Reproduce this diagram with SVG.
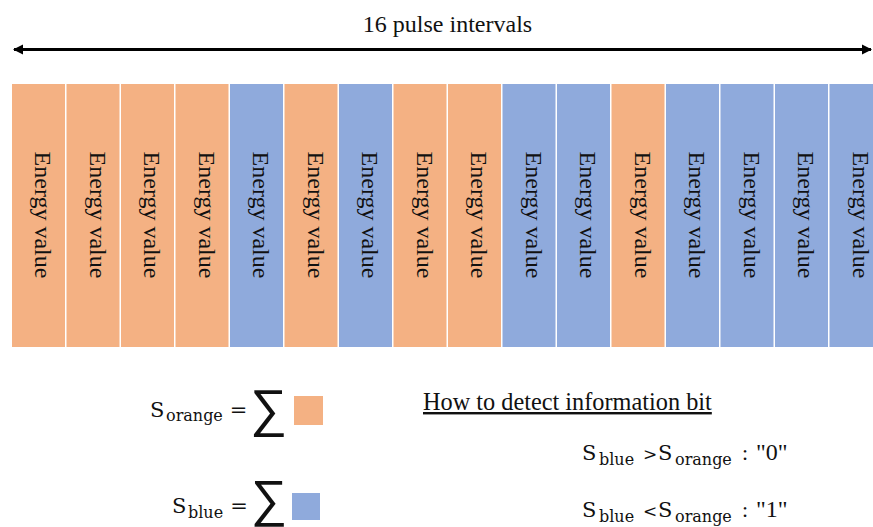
<svg xmlns="http://www.w3.org/2000/svg" width="873" height="527" viewBox="0 0 873 527">
<style>
.o{fill:#F4B183}
.b{fill:#8FAADC}
.ev{font-family:"Liberation Serif",serif;font-size:24px;fill:#111;text-anchor:middle}
.t{font-family:"Liberation Serif",serif;fill:#111}
.m{font-family:"DejaVu Serif",serif;fill:#111}
.sig{font-family:"DejaVu Sans",sans-serif;font-weight:200;fill:#111;text-anchor:middle}
</style>
<defs>
<marker id="ah" markerUnits="userSpaceOnUse" markerWidth="10" markerHeight="12" refX="9" refY="6" orient="auto-start-reverse" viewBox="0 0 10 12">
<path d="M0,1 L10,6 L0,11 Z" fill="#000"/>
</marker>
</defs>
<g id="connectors">
<line x1="14" y1="49.5" x2="871" y2="49.5" stroke="#000" stroke-width="3" marker-start="url(#ah)" marker-end="url(#ah)"/>
</g>
<g id="title"><text class="t" x="447.5" y="32" font-size="24" text-anchor="middle">16 pulse intervals</text></g>
<g id="bars">
<g id="bar1"><rect class="o" x="12" y="84" width="53" height="263"/><text class="ev" transform="translate(38.5,215) rotate(90)" y="3.5">Energy value</text></g>
<g id="bar2"><rect class="o" x="66.5" y="84" width="53" height="263"/><text class="ev" transform="translate(93,215) rotate(90)" y="3.5">Energy value</text></g>
<g id="bar3"><rect class="o" x="121" y="84" width="53" height="263"/><text class="ev" transform="translate(147.5,215) rotate(90)" y="3.5">Energy value</text></g>
<g id="bar4"><rect class="o" x="175.5" y="84" width="53" height="263"/><text class="ev" transform="translate(202,215) rotate(90)" y="3.5">Energy value</text></g>
<g id="bar5"><rect class="b" x="230" y="84" width="53" height="263"/><text class="ev" transform="translate(256.5,215) rotate(90)" y="3.5">Energy value</text></g>
<g id="bar6"><rect class="o" x="284.5" y="84" width="53" height="263"/><text class="ev" transform="translate(311,215) rotate(90)" y="3.5">Energy value</text></g>
<g id="bar7"><rect class="b" x="339" y="84" width="53" height="263"/><text class="ev" transform="translate(365.5,215) rotate(90)" y="3.5">Energy value</text></g>
<g id="bar8"><rect class="o" x="393.5" y="84" width="53" height="263"/><text class="ev" transform="translate(420,215) rotate(90)" y="3.5">Energy value</text></g>
<g id="bar9"><rect class="o" x="448" y="84" width="53" height="263"/><text class="ev" transform="translate(474.5,215) rotate(90)" y="3.5">Energy value</text></g>
<g id="bar10"><rect class="b" x="502.5" y="84" width="53" height="263"/><text class="ev" transform="translate(529,215) rotate(90)" y="3.5">Energy value</text></g>
<g id="bar11"><rect class="b" x="557" y="84" width="53" height="263"/><text class="ev" transform="translate(583.5,215) rotate(90)" y="3.5">Energy value</text></g>
<g id="bar12"><rect class="o" x="611.5" y="84" width="53" height="263"/><text class="ev" transform="translate(638,215) rotate(90)" y="3.5">Energy value</text></g>
<g id="bar13"><rect class="b" x="666" y="84" width="53" height="263"/><text class="ev" transform="translate(692.5,215) rotate(90)" y="3.5">Energy value</text></g>
<g id="bar14"><rect class="b" x="720.5" y="84" width="53" height="263"/><text class="ev" transform="translate(747,215) rotate(90)" y="3.5">Energy value</text></g>
<g id="bar15"><rect class="b" x="775" y="84" width="53" height="263"/><text class="ev" transform="translate(801.5,215) rotate(90)" y="3.5">Energy value</text></g>
<g id="bar16"><rect class="b" x="829.5" y="84" width="53" height="263"/><text class="ev" transform="translate(856,215) rotate(90)" y="3.5">Energy value</text></g>
</g>
<g id="sum-orange">
<text class="m" x="150" y="417" font-size="21">S</text>
<text class="m" x="166" y="421" font-size="16">orange</text>
<text class="m" x="238.5" y="417" font-size="21" text-anchor="middle">=</text>
<text class="sig" x="268.5" y="425.5" font-size="52">∑</text>
<rect class="o" x="294" y="396" width="29" height="29"/>
</g>
<g id="sum-blue">
<text class="m" x="172" y="513" font-size="21">S</text>
<text class="m" x="188" y="518" font-size="16">blue</text>
<text class="m" x="239" y="513" font-size="21" text-anchor="middle">=</text>
<text class="sig" x="269" y="516" font-size="51">∑</text>
<rect class="b" x="292" y="493" width="28" height="27"/>
</g>
<g id="rule">
<text class="t" x="423" y="410" font-size="24.3" text-decoration="underline">How to detect information bit</text>
<text class="m" x="582" y="460" font-size="21">S</text>
<text class="m" x="599" y="465" font-size="16">blue</text>
<text class="m" x="650" y="460" font-size="17" text-anchor="middle">&gt;</text>
<text class="m" x="658" y="460" font-size="21">S</text>
<text class="m" x="675" y="465" font-size="16">orange</text>
<text class="t" x="745" y="460" font-size="22" text-anchor="middle">:</text>
<text class="t" x="756" y="460" font-size="24">"0"</text>
<text class="m" x="582" y="516.5" font-size="21">S</text>
<text class="m" x="599" y="521.5" font-size="16">blue</text>
<text class="m" x="650" y="516.5" font-size="17" text-anchor="middle">&lt;</text>
<text class="m" x="658" y="516.5" font-size="21">S</text>
<text class="m" x="675" y="521.5" font-size="16">orange</text>
<text class="t" x="745" y="516.5" font-size="22" text-anchor="middle">:</text>
<text class="t" x="756" y="516.5" font-size="24">"1"</text>
</g>
</svg>
